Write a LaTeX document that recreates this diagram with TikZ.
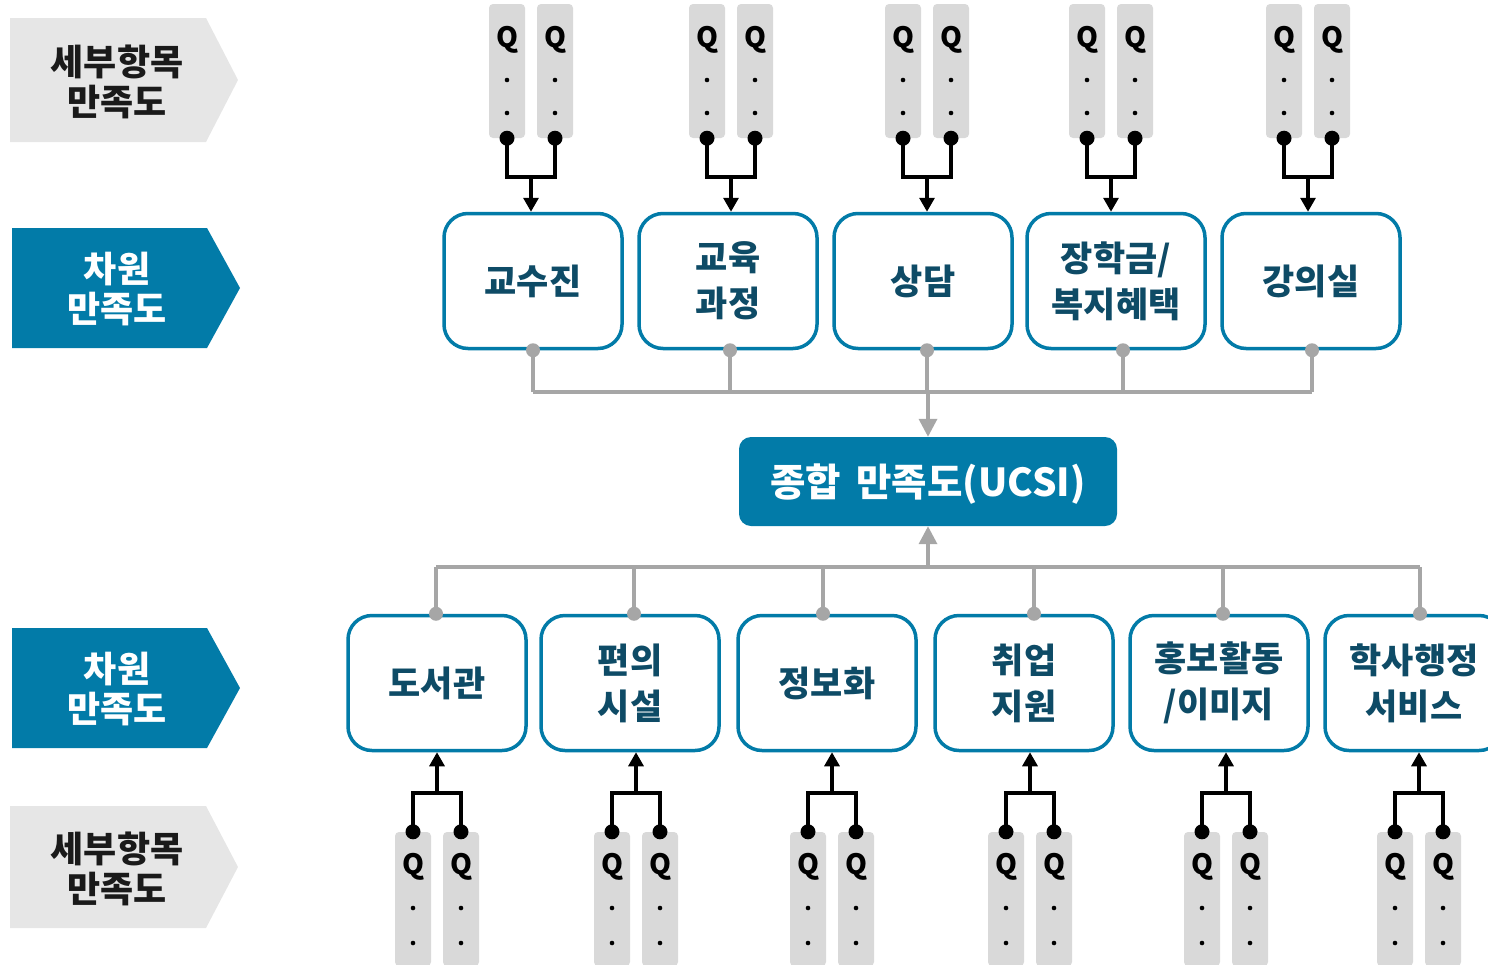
\documentclass[tikz,border=0pt]{standalone}
\usepackage{fontspec}
\setmainfont{Noto Sans CJK KR}
\usetikzlibrary{arrows.meta,calc}
\definecolor{ublue}{HTML}{027BA8}
\definecolor{dtext}{HTML}{0E4B66}
\definecolor{lgray}{HTML}{E6E6E6}
\definecolor{qgray}{HTML}{D9D9D9}
\definecolor{cgray}{HTML}{A6A6A6}
\definecolor{ktext}{HTML}{1A1A1A}
\tikzset{
  lab/.style={align=center,font=\bfseries\fontsize{36}{40}\selectfont,inner sep=0pt},
  qcol/.style={fill=qgray,rounded corners=4pt,minimum width=36pt,minimum height=134pt,inner sep=0pt},
  qtxt/.style={font=\bfseries\fontsize{28}{28}\selectfont,text=black,inner sep=0pt},
  dimbox/.style={draw=ublue,line width=3.5pt,rounded corners=24pt,fill=white,minimum width=178pt,minimum height=135pt,align=center,inner sep=0pt,font=\bfseries\fontsize{35}{46}\selectfont,text=dtext},
  total/.style={fill=ublue,rounded corners=12pt,minimum width=378pt,minimum height=89pt,inner sep=0pt,font=\bfseries\fontsize{38.5}{40}\selectfont,text=white},
  blk/.style={draw=black,line width=3.2pt},
  blkarrow/.style={blk,-{Triangle[length=14pt,width=15pt]}},
  gcon/.style={draw=cgray,line width=3.5pt},
  garrow/.style={gcon,-{Triangle[length=18pt,width=18pt]}}
}
\begin{document}
\begin{tikzpicture}[x=1pt,y=-1pt]
\useasboundingbox (0,0) rectangle (1488,964);
% side labels
\fill[lgray] (10,18) -- (206,18) -- (238,80) -- (206,142) -- (10,142) -- cycle;
\node[lab,text=ktext] (l1) at (117,82) {세부항목\\만족도};
\fill[ublue] (12,228) -- (207,228) -- (240,288) -- (207,348) -- (12,348) -- cycle;
\node[lab,text=white] (l2) at (117,289) {차원\\만족도};
\fill[ublue] (12,628) -- (207,628) -- (240,688) -- (207,748) -- (12,748) -- cycle;
\node[lab,text=white] (l3) at (117,689) {차원\\만족도};
\fill[lgray] (10,806) -- (206,806) -- (238,867) -- (206,928) -- (10,928) -- cycle;
\node[lab,text=ktext] (l4) at (117,869) {세부항목\\만족도};
% top dimension boxes
\node[dimbox] (t1) at (533,281) {교수진};
\node[dimbox] (t2) at (728,281) {교육\\과정};
\node[dimbox] (t3) at (923,281) {상담};
\node[dimbox] (t4) at (1116,281) {장학금/\\복지혜택};
\node[dimbox] (t5) at (1311,281) {강의실};
% bottom dimension boxes
\node[dimbox] (d1) at (437,683) {도서관};
\node[dimbox] (d2) at (630,683) {편의\\시설};
\node[dimbox] (d3) at (827,683) {정보화};
\node[dimbox] (d4) at (1024,683) {취업\\지원};
\node[dimbox] (d5) at (1219,683) {홍보활동\\/이미지};
\node[dimbox] (d6) at (1414,683) {학사행정\\서비스};
% total
\node[total] (u) at (928,481.5) {\raisebox{-15pt}[0pt][0pt]{종합\, 만족도(UCSI)}};
% top question columns
\foreach \a/\b/\n in {507/555/1,707/755/2,903/951/3,1087/1135/4,1284/1332/5}{
  \node[qcol] (qa\n) at (\a,71) {};
  \node[qcol] (qb\n) at (\b,71) {};
  \node[qtxt] at (\a,40) {Q};
  \node[qtxt] at (\b,40) {Q};
  \fill (\a,80) circle (2.3) (\b,80) circle (2.3) (\a,113) circle (2.3) (\b,113) circle (2.3);
  \coordinate (ja\n) at (\a,177);
  \coordinate (jb\n) at (\b,177);
  \coordinate (jm\n) at ({(\a+\b)/2},177);
  \draw[blk] (qa\n.south) -- (ja\n) -- (jb\n) -- (qb\n.south);
  \draw[blkarrow] (jm\n) -- (jm\n |- t\n.north);
  \fill (qa\n.south) circle (7.5) (qb\n.south) circle (7.5);
}
% bottom question columns
\foreach \a/\b/\n in {413/461/1,612/660/2,808/856/3,1006/1054/4,1202/1250/5,1395/1443/6}{
  \node[qcol] (pa\n) at (\a,899) {};
  \node[qcol] (pb\n) at (\b,899) {};
  \node[qtxt] at (\a,867) {Q};
  \node[qtxt] at (\b,867) {Q};
  \fill (\a,908) circle (2.3) (\b,908) circle (2.3) (\a,943) circle (2.3) (\b,943) circle (2.3);
  \coordinate (ka\n) at (\a,793);
  \coordinate (kb\n) at (\b,793);
  \coordinate (km\n) at ({(\a+\b)/2},793);
  \draw[blk] (pa\n.north) -- (ka\n) -- (kb\n) -- (pb\n.north);
  \draw[blkarrow] (km\n) -- (km\n |- d\n.south);
  \fill (pa\n.north) circle (7.5) (pb\n.north) circle (7.5);
}
% top gray connectors
\coordinate (hu) at (928,392);
\foreach \n/\dx in {1/0,2/2,3/4,4/7,5/1}{
  \coordinate (gt\n) at ($(t\n.south)+(\dx,0)$);
  \draw[gcon] (gt\n) -- (gt\n |- hu);
}
\draw[gcon] (gt1 |- hu) -- (gt5 |- hu);
\draw[garrow] (hu) -- (hu |- u.north);
\foreach \n in {1,...,5}{ \fill[cgray] (gt\n) circle (7); }
% bottom gray connectors
\coordinate (hd) at (928,567);
\foreach \n/\dx in {1/-1,2/4,3/-4,4/10,5/4,6/6}{
  \coordinate (gd\n) at ($(d\n.north)+(\dx,0)$);
  \draw[gcon] (gd\n) -- (gd\n |- hd);
}
\draw[gcon] (gd1 |- hd) -- (gd6 |- hd);
\draw[garrow] (hd) -- (hd |- u.south);
\foreach \n in {1,...,6}{ \fill[cgray] (gd\n) circle (7); }
\end{tikzpicture}
\end{document}
